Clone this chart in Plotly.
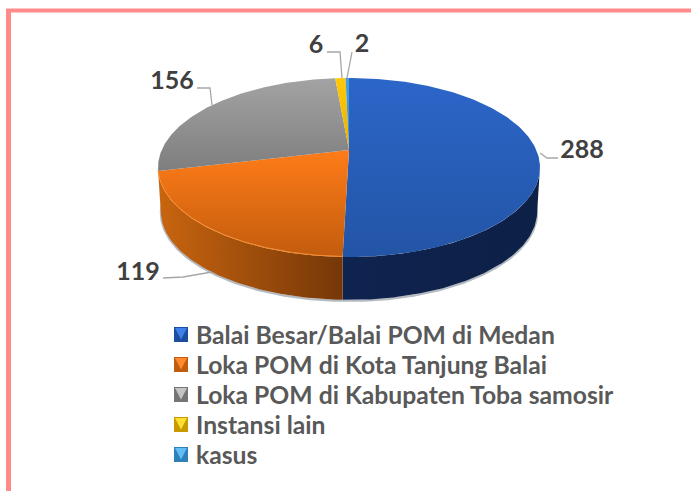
import numpy as np
import plotly.graph_objects as go

names = ["Balai Besar/Balai POM di Medan", "Loka POM di Kota Tanjung Balai",
         "Loka POM di Kabupaten Toba samosir", "Instansi lain", "kasus"]
values = [288, 119, 156, 6, 2]

top_grad = [("#2355A6", "#2C66C9"), ("#C25C0E", "#FF7C18"), ("#7E7E7E", "#A3A3A3"),
            ("#E6B000", "#FFC90A"), ("#3A8CCB", "#43A0E0")]
side_grad = [("#0F2350", "#0D2046"), ("#C9650F", "#753707"), ("#707070", "#707070"),
             ("#A07C00", "#A07C00"), ("#225C88", "#225C88")]
legend_col = [("#1D4E9E", "#3F7FE8"), ("#C25C0E", "#FF8A2E"), ("#757575", "#C4C4C4"),
              ("#C99A00", "#FFE02E"), ("#2F7FB8", "#62BDF5")]

CX, APEX_Y, A, B, K = 349.0, 150.0, 187.3, 86.1, 0.1955
DEPTH, SHRINK = 44.5, 0.985
GREY_LINE = "#A6A6A6"


def project(theta, bottom=False):
    d = np.cos(theta)
    w = 1 + K * d
    s = SHRINK if bottom else 1.0
    return CX + s * A * np.sin(theta) / w, APEX_Y + (DEPTH if bottom else 0) - s * B * d / w


total = sum(values)
fractions = np.cumsum([0] + values) / total * 2 * np.pi
vis_lo, vis_hi = np.pi - np.arcsin(np.sqrt(1 - K ** 2)), np.pi + np.arcsin(np.sqrt(1 - K ** 2))

fig = go.Figure()


def poly(x, y, cols, kind):
    fig.add_trace(go.Scatter(
        x=list(x), y=list(y), mode="lines", fill="toself", line=dict(width=0),
        fillgradient=dict(type=kind, colorscale=[[0, cols[0]], [1, cols[1]]]),
        hoverinfo="skip", showlegend=False))


# soft shadow below the disc
t = np.linspace(vis_lo - 0.1, vis_hi + 0.1, 200)
xb, yb = project(t, True)
fig.add_trace(go.Scatter(x=xb, y=yb + 1, mode="lines", line=dict(color="#B4BAC2", width=2.2),
                         hoverinfo="skip", showlegend=False))

# sides
for i in range(len(values)):
    lo, hi = max(fractions[i], vis_lo), min(fractions[i + 1], vis_hi)
    if hi <= lo:
        continue
    t = np.linspace(lo, hi, 120)
    xt, yt = project(t)
    xb, yb = project(t, True)
    poly(np.r_[xt, xb[::-1]], np.r_[yt, yb[::-1]], side_grad[i], "horizontal")

# top faces
for i in range(len(values)):
    t = np.linspace(fractions[i], fractions[i + 1], 160)
    xt, yt = project(t)
    poly(np.r_[CX, xt, CX], np.r_[APEX_Y, yt, APEX_Y], top_grad[i], "vertical")

# bright rim on the orange face
t = np.linspace(fractions[1], fractions[2], 120)
xt, yt = project(t)
fig.add_trace(go.Scatter(x=xt, y=yt - 0.5, mode="lines", line=dict(color="#F98F33", width=1),
                         hoverinfo="skip", showlegend=False))

# leader lines
leaders = [([540, 547, 558], [153, 158, 158]),
           ([163, 183, 212], [278, 277, 272]),
           ([197, 210, 212], [88, 88, 105]),
           ([327, 340, 342], [52, 52, 78]),
           ([352, 347], [52, 78])]
for lx, ly in leaders:
    fig.add_trace(go.Scatter(x=lx, y=ly, mode="lines", line=dict(color=GREY_LINE, width=1.3),
                             hoverinfo="skip", showlegend=False))

# value labels
label_x = [582, 138, 172, 316, 362]
label_y = [151.5, 273.5, 82.5, 46.5, 45.5]
fig.add_trace(go.Scatter(x=label_x, y=label_y, mode="text", text=[str(v) for v in values],
                         textposition="middle center",
                         textfont=dict(family="Lato", size=25, color="#404040", weight="bold"),
                         hoverinfo="skip", showlegend=False))

# legend
legend_y = [334.5, 364.5, 394.5, 424.5, 454.5]
for n, ly, c in zip(names, legend_y, legend_col):
    x0, x1, y0, y1 = 174, 188, ly - 7.5, ly + 7.5
    poly([x0, x1, x1, x0, x0], [y0, y0, y1, y1, y0], (c[0], c[0]), "vertical")
    fig.add_trace(go.Scatter(
        x=[x0 + 1, x1 - 1, (x0 + x1) / 2, x0 + 1], y=[y0 + 1, y0 + 1, y1 - 2.5, y0 + 1],
        mode="lines", fill="toself", line=dict(width=0), fillcolor=c[1],
        hoverinfo="skip", showlegend=False))
    fig.add_annotation(x=194, y=ly, text=n, showarrow=False, xanchor="left", yanchor="middle",
                       font=dict(family="Lato", size=24.7, color="#595959", weight="bold"))

fig.update_layout(
    width=691, height=491, margin=dict(l=0, r=0, t=0, b=0),
    paper_bgcolor="white", plot_bgcolor="white", showlegend=False,
    xaxis=dict(range=[0, 691], visible=False, fixedrange=True),
    yaxis=dict(range=[491, 0], visible=False, fixedrange=True),
    shapes=[
        dict(type="line", xref="x", yref="y", x0=8.5, x1=8.5, y0=10, y1=491, line=dict(color="#FF8A8A", width=5)),
        dict(type="line", xref="x", yref="y", x0=6, x1=691, y0=10.5, y1=10.5, line=dict(color="#FF8A8A", width=4)),
    ],
)
fig.write_html("out.html", config={"displayModeBar": False},
               post_script="document.body.style.margin='0';document.body.style.overflow='hidden';")
